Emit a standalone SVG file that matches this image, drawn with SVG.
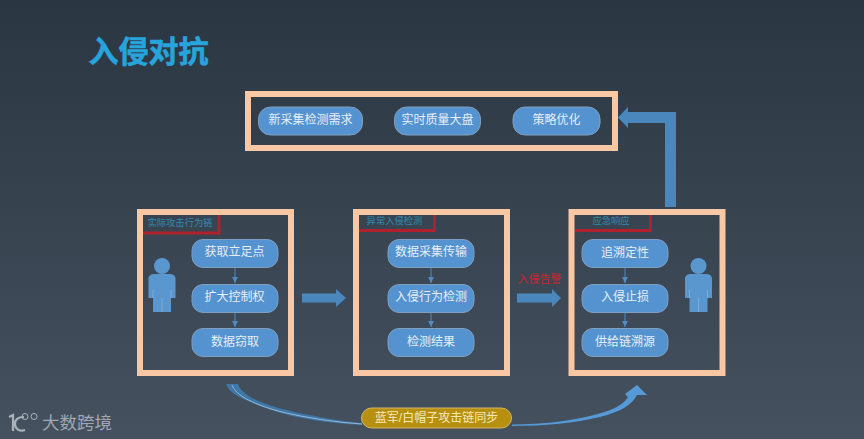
<svg xmlns="http://www.w3.org/2000/svg" width="864" height="439" viewBox="0 0 864 439">
<style>
text{font-family:"Liberation Sans","Noto Sans CJK SC",sans-serif;text-anchor:middle;dominant-baseline:central}
.frame{fill:none;stroke:#f8c8a4;stroke-width:6}
.box{fill:#5493cf;stroke:#7f9fbe;stroke-width:1}
.lbl{fill:#e6eef6;font-size:12px}
.tag{fill:none;stroke:#b0212d;stroke-width:2.800}
.tagt{fill:#2f8bb0;font-size:9.300px}
.arr{fill:#4a87bd}
.person{fill:#5a97cf}
.link{stroke:#4f8bc0;stroke-width:1;fill:none;marker-end:url(#tip)}
</style>
<defs>
<linearGradient id="bg" x1="0" y1="0" x2="0" y2="1"><stop offset="0" stop-color="#2b3643"/><stop offset="1" stop-color="#46515f"/></linearGradient>
<marker id="tip" markerWidth="8" markerHeight="8" refX="6" refY="3" orient="auto"><path d="M0 0L6 3L0 6Z" fill="#4f8bc0"/></marker>
<g id="personShape"><circle cx="0" cy="0" r="8" class="person"/><path class="person" d="M-13.500 14a5 5 0 0 1 5-6h17a5 5 0 0 1 5 6V32h-4.500V46H-9V32h-4.500Z"/><path d="M0 32V46M-9 24V32M9 24V32" stroke="#8db4d8" stroke-width=".7" fill="none"/></g>
</defs>
<rect width="864" height="439" fill="url(#bg)"/>
<text x="148.500" y="51" fill="#27a4dc" stroke="#27a4dc" stroke-width=".6" font-size="30" font-weight="700">入侵对抗</text>

<g id="connectors">
<path class="arr" d="M302 293.500H336V289L346 298L336 307V302.500H302Z"/>
<path class="arr" d="M517 293.500H552V289L561 298L552 307V302.500H517Z"/>
<path class="arr" d="M676 207H665V123H628V128L618 117.500L628 107V112H676Z"/>
<path class="link" d="M235 268V283"/><path class="link" d="M235 312V327"/>
<path class="link" d="M431 268V283"/><path class="link" d="M431 312V327"/>
<path class="link" d="M625 268V283"/><path class="link" d="M625 312V327"/>
<path fill="#3f78a8" d="M226 384H238C241 396 265 407 315 416C335 420 350 422 362 423V425C320 423 285 416 260 406C240 398 229 393 226 384Z"/>
<path fill="none" stroke="#a9c4dc" stroke-width=".8" d="M232 385C236 397 262 410 312 418C335 422 350 423 362 424"/>
<path fill="#559ad6" d="M512 424.500C545 424 570 421 590 416C612 411 623 405 628 397L625 394L637 385L647 395L637 395C632 405 620 412 600 417C575 423 545 426 512 426Z"/>
</g>

<g id="top-panel">
<rect class="frame" x="248" y="94" width="367" height="54"/>
<rect class="box" x="258.500" y="107" width="104" height="28" rx="12"/><text class="lbl" x="310.500" y="120">新采集检测需求</text>
<rect class="box" x="394.500" y="107" width="86" height="28" rx="12"/><text class="lbl" x="437.500" y="120">实时质量大盘</text>
<rect class="box" x="513" y="107" width="87" height="28" rx="12"/><text class="lbl" x="556.500" y="120">策略优化</text>
</g>

<g id="attack-panel">
<rect class="frame" x="140" y="212" width="151" height="161"/>
<path class="tag" d="M143 233H219V215"/>
<text class="tagt" x="180" y="223">实际攻击行为链</text>
<use href="#personShape" x="162" y="266"/>
</g>
<g id="n-foothold"><rect class="box" x="192" y="239.500" width="86" height="28" rx="11"/><text class="lbl" x="234.500" y="252">获取立足点</text></g>
<g id="n-escalate"><rect class="box" x="192" y="284.500" width="86" height="28" rx="11"/><text class="lbl" x="234.500" y="297">扩大控制权</text></g>
<g id="n-steal"><rect class="box" x="192" y="328.500" width="86" height="28" rx="11"/><text class="lbl" x="235" y="342">数据窃取</text></g>

<g id="detect-panel">
<rect class="frame" x="356" y="212" width="151" height="161"/>
<path class="tag" d="M359 230.500H434.500V215"/>
<text class="tagt" x="394.500" y="221">异常入侵检测</text>
</g>
<g id="n-collect"><rect class="box" x="388" y="239.500" width="86" height="28" rx="11"/><text class="lbl" x="431" y="252">数据采集传输</text></g>
<g id="n-behavior"><rect class="box" x="388" y="284.500" width="86" height="28" rx="11"/><text class="lbl" x="431" y="297">入侵行为检测</text></g>
<g id="n-result"><rect class="box" x="388" y="328.500" width="86" height="28" rx="11"/><text class="lbl" x="431" y="342">检测结果</text></g>

<text x="539.500" y="279" fill="#c8262c" font-size="11px">入侵告警</text>

<g id="response-panel">
<rect class="frame" x="571.500" y="212" width="151" height="161"/>
<path class="tag" d="M575 230.500H650.500V215"/>
<text class="tagt" x="611" y="220.500">应急响应</text>
<use href="#personShape" x="698.500" y="266"/>
</g>
<g id="n-trace"><rect class="box" x="582" y="239.500" width="86" height="28" rx="11"/><text class="lbl" x="625" y="252.500">追溯定性</text></g>
<g id="n-stop"><rect class="box" x="582" y="284.500" width="86" height="28" rx="11"/><text class="lbl" x="625" y="297">入侵止损</text></g>
<g id="n-supply"><rect class="box" x="582" y="328.500" width="86" height="28" rx="11"/><text class="lbl" x="625" y="342">供给链溯源</text></g>

<g id="sync-label">
<rect x="361.500" y="408" width="150" height="20" rx="10" fill="#b8900f" stroke="#d4b566"/>
<text x="436.500" y="417.500" fill="#f6e9b8" font-size="12px">蓝军/白帽子攻击链同步</text>
</g>

<g id="logo">
<path d="M9 417L13 415V431M24 417C17 417 15 420 15 424C15 429 20 432 25 430" fill="none" stroke="#aab2ba" stroke-width="2.200"/>
<circle cx="25" cy="416.500" r="3" fill="none" stroke="#aab2ba"/><circle cx="34" cy="416.500" r="3" fill="none" stroke="#aab2ba"/>
<text x="77" y="423" fill="#a0a8b1" font-size="17.500px">大数跨境</text>
</g>
</svg>
